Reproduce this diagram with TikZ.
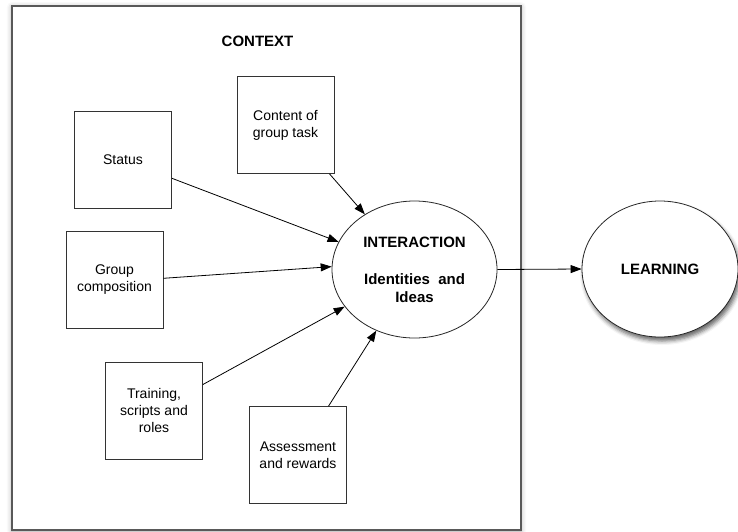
\documentclass[tikz,border=0pt]{standalone}
\usepackage{fontspec}
\setmainfont{Liberation Sans}
\usetikzlibrary{arrows.meta,shapes.geometric,shadows.blur}

\tikzset{
    factor/.style={draw=black!80, line width=0.8pt, fill=white,
        minimum width=97pt, minimum height=97pt, align=center,
        font=\fontsize{14}{17}\selectfont},
    bubble/.style={ellipse, draw=black!85, line width=0.8pt, fill=white,
        align=center, font=\fontsize{15}{18}\selectfont\bfseries},
    influence/.style={line width=0.8pt, -{Triangle[length=11pt,width=8pt]}}
}

\begin{document}
\begin{tikzpicture}[x=1pt, y=-1pt]
    \useasboundingbox (0,0) rectangle (738,531);

    % Context frame
    \node[draw=black!65, line width=1.4pt, fill=white,
          blur shadow={shadow xshift=0pt, shadow yshift=-1pt, shadow opacity=35, shadow blur radius=5pt},
          minimum width=509pt, minimum height=524pt] (context) at (266.5,268) {};
    \node[font=\fontsize{15}{18}\selectfont\bfseries] (ctxlabel) at (257.5,41) {CONTEXT};

    % Factors inside the context
    \node[factor] (status)   at (123,159.5) {Status};
    \node[factor] (content)  at (285.5,125) {Content of\\group task};
    \node[factor] (group)    at (114.5,280) {Group\\composition};
    \node[factor] (training) at (154,410.5) {Training,\\scripts and\\roles};
    \node[factor] (assess)   at (298,455)   {Assessment\\and rewards};

    % Interaction
    \node[bubble, minimum width=165pt, minimum height=137pt] (inter) at (414.5,269.5)
        {INTERACTION\\[19pt]Identities\ \ and\\Ideas};

    % Learning
    \node[bubble, minimum width=156pt, minimum height=136pt,
          blur shadow={shadow xshift=2pt, shadow yshift=-4pt, shadow opacity=60, shadow blur radius=4pt}]
        (learn) at (660,269) {LEARNING};

    % Arrows into the interaction
    \draw[influence] (status.-21)  -- (inter.160);
    \draw[influence] (content.-48) -- (inter.132);
    \draw[influence] (group.2)     -- (inter.178);
    \draw[influence] (training.28) -- (inter.208);
    \draw[influence] (assess.58)   -- (inter.238);

    % Interaction to learning
    \draw[influence] (inter.east) -- (learn.west);
\end{tikzpicture}
\end{document}
